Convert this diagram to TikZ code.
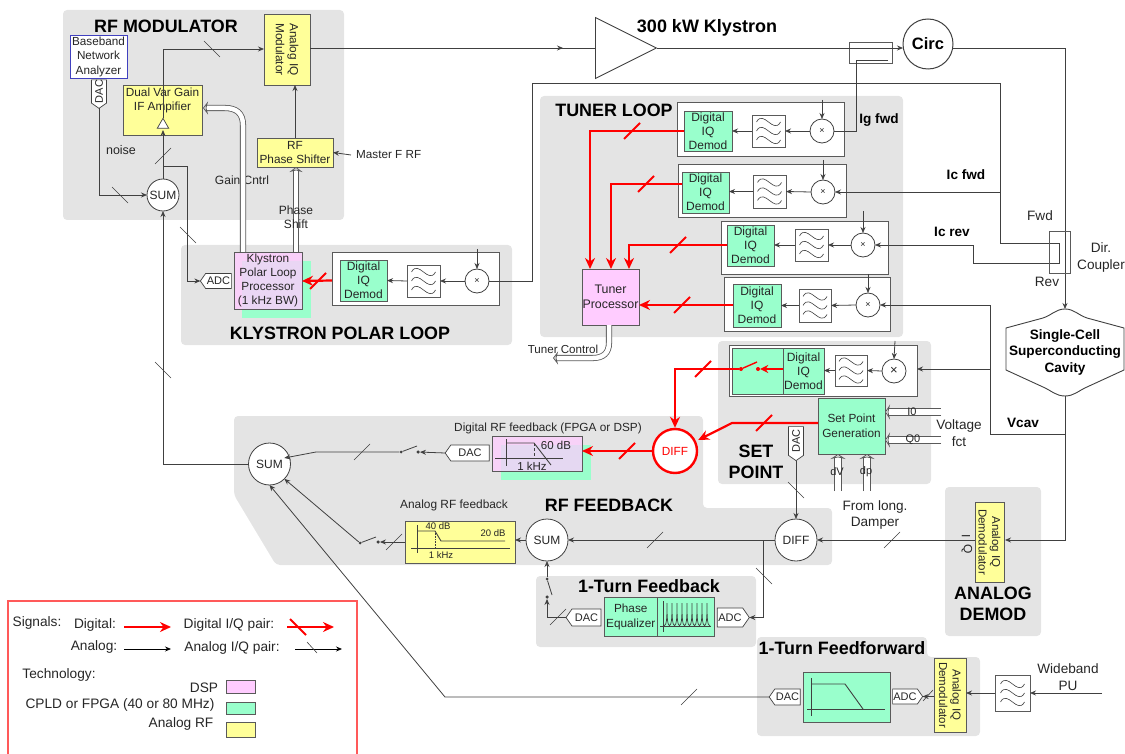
\documentclass[tikz,border=0pt]{standalone}
\usepackage{fontspec}
\setmainfont{Liberation Sans}
\usetikzlibrary{arrows.meta,shapes.symbols,shapes.geometric}
\definecolor{panel}{HTML}{E4E4E4}
\definecolor{ygl}{HTML}{FFFF99}
\definecolor{grn}{HTML}{99FFCC}
\definecolor{pnk}{HTML}{FFCCFF}
\definecolor{ln}{HTML}{404040}
\definecolor{edge}{HTML}{5A5A5A}
\definecolor{txt}{HTML}{262626}
\definecolor{rd}{HTML}{FF0000}
\tikzset{
  base/.style={inner sep=0pt,outer sep=0pt,align=center,text=txt,font=\fontsize{11.8}{14}\selectfont},
  panelbox/.style={fill=panel,draw=none,rounded corners=4pt},
  yellowbox/.style={base,fill=ygl,draw=edge,line width=.8pt},
  greenbox/.style={base,fill=grn,draw=edge,line width=.8pt},
  pinkbox/.style={base,fill=pnk,draw=edge,line width=.8pt},
  whitebox/.style={base,fill=white,draw=edge,line width=.8pt},
  title/.style={inner sep=0pt,align=center,text=black,font=\fontsize{17.9}{21}\bfseries\selectfont},
  lbl/.style={inner sep=0pt,align=center,text=txt,font=\fontsize{12}{16}\selectfont},
  midlbl/.style={lbl,font=\fontsize{13.6}{16.5}\selectfont},
  leglbl/.style={lbl,font=\fontsize{13.7}{16}\selectfont},
  blbl/.style={inner sep=0pt,align=center,text=black,font=\fontsize{13.6}{16}\bfseries\selectfont},
  circ/.style={base,circle,draw=ln,fill=white,line width=.8pt},
  sumnode/.style={circ,minimum size=42pt,font=\fontsize{12}{14}\selectfont},
  mixnode/.style={circ,minimum size=24pt,font=\fontsize{9}{10}\selectfont},
  sig/.style={draw=ln,line width=.8pt,-{Stealth[length=6pt,width=5pt]}},
  wire/.style={draw=ln,line width=.8pt},
  rsig/.style={draw=rd,line width=2.2pt,-{Stealth[length=11pt,width=10pt]}},
  hollow/.style={draw=edge,line width=.8pt,double=white,double distance=4.5pt,-{Stealth[open,fill=white,length=5pt,width=13pt]}},
  hollowb/.style={draw=edge,line width=.8pt,double=white,double distance=6.5pt,-{Stealth[open,fill=white,length=5pt,width=15pt]}},
  graphline/.style={draw=ln,line width=.9pt},
  tagn/.style={base,draw=ln,fill=white,line width=.7pt,signal,signal from=nowhere,signal pointer angle=110,font=\fontsize{11}{13}\selectfont},
  tick/.style={draw=ln,line width=.6pt},
  rtick/.style={draw=rd,line width=2pt},
}
\newcommand{\bx}[7][]{\pgfmathsetmacro\cxx{(#3+#5)/2}\pgfmathsetmacro\cyy{(#4+#6)/2}\pgfmathsetmacro\www{#5-#3}\pgfmathsetmacro\hhh{#6-#4}\node[rectangle,minimum width=\www pt,minimum height=\hhh pt,#1] (#2) at (\cxx,\cyy) {#7};}
\newcommand{\tickF}[2]{\draw[tick] (#1-8,#2+8) -- (#1+8,#2-8);}
\newcommand{\tickB}[2]{\draw[tick] (#1-8,#2-8) -- (#1+8,#2+8);}
\newcommand{\rtickF}[2]{\draw[rtick] (#1-8,#2+8) -- (#1+8,#2-8);}
\newcommand{\filt}[5]{\bx[whitebox]{#1}{#2}{#3}{#4}{#5}{}
  \foreach \dy in {-9,0,9}{\draw[draw=ln,line width=.6pt] ([shift={(-12,\dy)}]#1.center) .. controls +(7,-13) and +(-7,13) .. +(24,0);}}
\begin{document}
\begin{tikzpicture}[x=1pt,y=-1pt]
\useasboundingbox (0,0) rectangle (1125,754);
% ---- panels
\draw[panelbox] (63,10) rectangle (344,220);
\draw[panelbox] (181,245) rectangle (512,345);
\draw[panelbox] (540,96) rectangle (903,337);
\draw[panelbox] (718,341) rectangle (931,484);
\draw[panelbox] (234,416) -- (703,416) -- (703,508) -- (832,508) -- (832,565) -- (276,565) -- (234,495) -- cycle;
\draw[panelbox] (536,576) rectangle (756,647);
\draw[panelbox] (757,637) -- (927,637) -- (927,657) -- (980,657) -- (980,736) -- (757,736) -- cycle;
\draw[panelbox] (945,487) rectangle (1041,636);
% ---- titles
\node[title] (tmod) at (166,26) {RF MODULATOR};
\node[title] (tpol) at (340,333) {KLYSTRON POLAR LOOP};
\node[title] (ttun) at (614,110) {TUNER LOOP};
\node[title,font=\fontsize{18}{21}\bfseries\selectfont] (tkly) at (707,28) {300 kW Klystron};
\node[title] (tset) at (756,462) {SET\\POINT};
\node[title] (tfb) at (609,505) {RF FEEDBACK};
\node[title] (t1fb) at (649,586) {1-Turn Feedback};
\node[title] (t1ff) at (842,648) {1-Turn Feedforward};
\node[title] (tdem) at (993,604) {ANALOG\\DEMOD};
% ---- RF modulator
\bx[whitebox,draw=blue!50!gray,font=\fontsize{11.7}{14.5}\selectfont]{bna}{70}{35}{127}{78}{Baseband\\Network\\Analyzer}
\node[tagn,rotate=90,signal to=west,minimum width=27pt,minimum height=15pt] (dacb) at (99,91.5) {DAC};
\bx[yellowbox]{ifamp}{123}{85}{202}{135}{\raisebox{7pt}[0pt][0pt]{\parbox{78pt}{\centering Dual Var Gain\\IF Ampifier}}}
\bx[yellowbox]{iqmod}{264}{14}{310}{85}{\rotatebox{-90}{\parbox{70pt}{\centering Analog IQ\\Modulator}}}
\bx[yellowbox]{phs}{257}{138}{333}{167}{RF\\Phase Shifter}
\node[sumnode,minimum size=32pt] (summ) at (163,195) {SUM};
\node[lbl,font=\fontsize{12.5}{14}\selectfont] (noise) at (121,150) {noise};
\node[lbl] (gain) at (242,180) {Gain Cntrl};
\node[lbl,anchor=west,font=\fontsize{11.7}{14}\selectfont] (master) at (356,155) {Master F RF};
\coordinate (masters) at (351,155);
\draw[sig] (masters) -- (phs.east);
\coordinate (modin) at (264,49);
\draw[wire] (summ.north) -- (ifamp.south -| summ.north);
\node[isosceles triangle,isosceles triangle apex angle=60,shape border rotate=90,draw=ln,fill=white,inner sep=0pt,minimum height=10pt,minimum width=11pt,line width=.7pt] (amptri) at (163,125) {};
\draw[sig] (ifamp.south -| summ.north) -- ++(0,-5);
\draw[sig] (amptri.north) |- (modin);
\draw[sig] (phs.north -| 295,138) -- (295,85);
\draw[sig] (dacb.west) |- (summ.west);
\tickB{120}{195}
\tickB{212}{49}
\tickF{163}{156}
% ---- Klystron polar loop
\bx[draw=none,fill=grn]{kgrn}{242}{261}{311}{318}{}
\bx[pinkbox,fill opacity=.8,text opacity=1,font=\fontsize{11.8}{14.2}\selectfont]{kpl}{234}{252}{302}{309}{Klystron\\Polar Loop\\Processor\\(1 kHz BW)}
\node[tagn,signal to=west,minimum width=31pt,minimum height=15pt] (adck) at (218.5,281) {ADC};
\coordinate (kbr) at (163,166);
\draw[wire] (kbr) -- (187,166) -- (187,281);
\coordinate (adcj) at (187,281);
\draw[sig] (adcj) -- (adck.west);
\tickB{188}{235}
\draw[hollow] (243,252) -- (243,125) .. controls (243,113) and (236,108) .. (225,108) -- (203,108);
\draw[hollow] (296,252) -- (296,167);
\node[lbl,font=\fontsize{12}{14}\selectfont] (pshift) at (296,217) {Phase\\Shift};
\bx[whitebox]{kwb}{332}{252}{499}{305}{}
\bx[greenbox,font=\fontsize{12}{14.2}\selectfont]{kdem}{340}{260}{387}{301}{Digital\\IQ\\Demod}
\filt{kf}{407}{265}{440}{297}
\node[mixnode] (kmix) at (477,281) {×};
\coordinate (kmt) at (477,249);
\draw[sig] (kmt) -- (kmix.north);
\draw[sig] (kmix.west) -- (kf.east);
\draw[sig] (kf.west) -- (kdem.east);
\draw[rsig] (kwb.west |- kdem.east) -- (302,281);
\rtickF{318}{281}
% ---- Klystron, circulator
\node[isosceles triangle,isosceles triangle apex angle=53,draw=ln,fill=white,line width=.9pt,inner sep=0pt,minimum height=61pt,minimum width=60pt,anchor=lower side] (kly) at (595,48) {};
\node[circ,minimum size=50pt,line width=1pt,text=black,font=\fontsize{16.5}{18}\bfseries\selectfont] (circul) at (928,44) {Circ};
\draw[wire] (iqmod.east |- 0,48) -- (kly.lower side);
\draw[sig] (iqmod.east |- 0,48) -- (563,48);
\bx[whitebox,fill=none]{dcg}{849}{42}{892}{63}{}
\coordinate (circin) at (903,48);
\draw[sig] (kly.apex) -- (circin);
\coordinate (cav) at (1065,309);
\draw[sig] (953,48) -- (1065,48) -- (cav);
% ---- cavity
\draw[draw=ln,fill=white,line width=.9pt] (1006,328) -- (1043,318) .. controls (1052,315) and (1056,309) .. (1065,309) .. controls (1074,309) and (1078,315) .. (1087,318) -- (1124,328) -- (1124,370) -- (1087,387) .. controls (1078,391) and (1074,396) .. (1065,396) .. controls (1056,396) and (1052,391) .. (1043,387) -- (1006,370) -- cycle;
\node[blbl,font=\fontsize{13.6}{16.5}\bfseries\selectfont] (cavt) at (1065,352) {Single-Cell\\Superconducting\\Cavity};
% ---- tuner loop boxes
\bx[whitebox]{tb1}{677}{102}{844}{156}{}
\bx[greenbox,font=\fontsize{12}{14.2}\selectfont]{d1}{684}{111}{732}{151}{Digital\\IQ\\Demod}
\filt{f1}{752}{115}{785}{147}
\node[mixnode] (m1) at (822,131) {×};
\bx[whitebox]{tb2}{678}{164}{846}{217}{}
\bx[greenbox,font=\fontsize{12}{14.2}\selectfont]{d2}{682}{172}{729}{213}{Digital\\IQ\\Demod}
\filt{f2}{753}{175}{786}{208}
\node[mixnode] (m2) at (823,192) {×};
\bx[whitebox]{tb3}{721}{221}{888}{274}{}
\bx[greenbox,font=\fontsize{12}{14.2}\selectfont]{d3}{727}{225}{774}{266}{Digital\\IQ\\Demod}
\filt{f3}{795}{229}{828}{261}
\node[mixnode] (m3) at (863,245) {×};
\bx[whitebox]{tb4}{724}{277}{890}{331}{}
\bx[greenbox,font=\fontsize{12}{14.2}\selectfont]{d4}{733}{284}{781}{327}{Digital\\IQ\\Demod}
\filt{f4}{799}{289}{831}{322}
\node[mixnode] (m4) at (868,305) {×};
\foreach \n/\x/\y in {1/822/100,2/823/160,3/863/211,4/868/274}{
  \coordinate (mt\n) at (\x,\y);
  \draw[sig] (mt\n) -- (m\n.north);
  \draw[sig] (m\n.west) -- (f\n.east);
}
\draw[sig] (f1.west) -- (d1.east |- f1.west);
\draw[sig] (f2.west) -- (d2.east |- f2.west);
\draw[sig] (f3.west) -- (d3.east |- f3.west);
\draw[sig] (f4.west) -- (d4.east |- f4.west);
\bx[pinkbox,font=\fontsize{12.4}{15}\selectfont]{tp}{582}{269}{639}{325}{Tuner\\Processor}
\coordinate (tp1) at (590,269);
\coordinate (tp2) at (611,269);
\coordinate (tp3) at (629,269);
\draw[rsig] (d1.west) -| (tp1);
\draw[rsig] (d2.west |- 0,184) -| (tp2);
\draw[rsig] (d3.west |- 0,245) -| (tp3);
\draw[rsig] (d4.west |- 0,305) -- (tp.east |- 0,305);
\rtickF{632}{131}
\rtickF{646}{184}
\rtickF{678}{245}
\rtickF{682}{305}
\draw[hollow] (tp.south -| 609,0) -- (609,343) .. controls (609,353) and (603,358) .. (593,358) -- (553,358);
\node[lbl,font=\fontsize{11.6}{12}\selectfont] (tctl) at (563,349.5) {Tuner Control};
% ---- sampling lines
\draw[wire] (888,60) -- (856,60) -- (856,131) -- (m1.east);
\coordinate (jfwd) at (1000,192);
\draw[wire] (kmix.east) -- (532,281) -- (532,83) -- (1000,83) -- (1000,243) -- (1059,243) -- (1059,263) -- (973,263) -- (973,245);
\draw[sig] (jfwd) -- (m2.east);
\draw[sig] (973,245) -- (m3.east);
\bx[draw=edge,line width=.8pt,fill=none]{coup}{1049}{231}{1070}{273}{}
\coordinate (jv) at (990,369);
\draw[sig] (990,434) -- (990,305) -- (m4.east);
\draw[wire] (990,434) -- (1065,434);
\coordinate (cavb) at (1065,396);
\coordinate (dmin) at (1005,540);
\draw[sig] (cavb) -- (1065,540) -- (dmin);
\node[blbl] (ig) at (879,120) {Ig fwd};
\node[blbl] (icf) at (966,175) {Ic fwd};
\node[blbl] (icr) at (952,232) {Ic rev};
\node[blbl] (vc) at (1023,423) {Vcav};
\node[midlbl] (fw) at (1040,216) {Fwd};
\node[midlbl] (rv) at (1047,282) {Rev};
\node[midlbl] (dc) at (1101,257.5) {Dir.\\Coupler};
% ---- set point
\bx[whitebox]{swb}{729}{345}{917}{396}{}
\bx[greenbox]{sg}{732}{348}{783}{394}{}
\bx[greenbox,font=\fontsize{12}{14.2}\selectfont]{sd}{783}{348}{824}{394}{Digital\\IQ\\Demod}
\filt{sf}{835}{355}{867}{386}
\node[mixnode,font=\fontsize{13}{13}\selectfont] (sm) at (894,371) {×};
\coordinate (smt) at (895,341);
\draw[sig] (smt) -- (sm.north);
\draw[sig] (sm.west) -- (sf.east);
\draw[sig] (sf.west) -- (sd.east |- sf.west);
\draw[sig] (jv) -- (swb.east |- jv);
\node[circle,draw=rd,fill=white,line width=2.4pt,minimum size=44pt,inner sep=0pt,text=rd,font=\fontsize{11.8}{14}\selectfont] (dif1) at (675,451) {DIFF};
\node[circle,fill=rd,inner sep=0pt,minimum size=4pt] (sw1a) at (741,369) {};
\node[circle,fill=rd,inner sep=0pt,minimum size=4pt] (sw1b) at (758,369) {};
\draw[rd,line width=1.4pt] (sw1a) -- (757,362);
\draw[rsig,-{Stealth[length=8pt,width=8pt]}] (sd.west |- sw1b) -- (sw1b);
\draw[rsig] (sw1a) -| (dif1.north);
\rtickF{703}{369}
\bx[greenbox,font=\fontsize{11.8}{15}\selectfont]{spg}{818}{398}{885}{454}{Set Point\\Generation}
\node[tagn,rotate=90,signal to=west,minimum width=34pt,minimum height=15pt] (dacs) at (796,441) {DAC};
\coordinate (rj) at (732,423);
\draw[rsig] (spg.west |- rj) -- (rj) -- (dif1.east |- 0,440);
\rtickF{764}{423}
\draw[hollowb] (941,412) -- (spg.east |- 0,412);
\draw[hollowb] (941,440) -- (spg.east |- 0,440);
\draw[hollowb] (838,491) -- (838,454);
\draw[hollowb] (867,491) -- (867,454);
\node[lbl,font=\fontsize{11}{13}\selectfont] (i0) at (912,412) {I0};
\node[lbl,font=\fontsize{11}{13}\selectfont] (q0) at (913,440) {Q0};
\node[lbl,font=\fontsize{11}{13}\selectfont] (dv) at (837,472) {dV};
\node[lbl,font=\fontsize{11}{13}\selectfont] (dp) at (866,472) {dp};
\node[midlbl] (vf) at (959,433) {Voltage\\fct};
\node[midlbl] (fl) at (875,515) {From long.\\Damper};
% ---- analog demod
\bx[yellowbox,font=\fontsize{11.5}{13.5}\selectfont]{dem}{975}{502}{1004}{582}{\rotatebox{-90}{\parbox{80pt}{\centering Analog IQ\\Demodulator}}}
\node[lbl,rotate=-90] (iI) at (966,536) {I};
\node[lbl,rotate=-90] (iQ) at (967,549) {Q};
% ---- RF feedback
\node[sumnode] (dif2) at (796,540) {DIFF};
\node[sumnode] (sum2) at (547,540) {SUM};
\node[sumnode] (sum1) at (269.5,464) {SUM};
\draw[sig] (dacs.west) -- (dif2.north);
\tickB{796}{490}
\draw[sig] (dem.west |- dif2) -- (dif2.east);
\tickF{892}{540}
\draw[sig] (dif2.west) -- (sum2.east);
\tickF{655}{540}
\draw[sig] (sum1.west) -| (summ.south);
\tickB{163}{370}
\node[lbl,font=\fontsize{11.8}{14}\selectfont] (drf) at (548,428) {Digital RF feedback (FPGA or DSP)};
\bx[draw=none,fill=grn]{dgrn}{501}{445}{591}{480}{}
\bx[pinkbox,fill opacity=.75,text opacity=1]{dbx}{492}{436}{582}{471}{}
\draw[graphline] (506,439) -- (506,466);
\draw[graphline] (495,458) -- (563,458);
\draw[graphline] (506,443) -- (534,443) -- (551,465);
\draw[draw=ln,densely dashed,line width=.6pt] (534,443) -- (534,458);
\node[lbl,font=\fontsize{11.5}{13}\selectfont] (d60) at (556,445.5) {60 dB};
\node[lbl,font=\fontsize{11.5}{13}\selectfont] (d1k) at (532,466) {1 kHz};
\node[tagn,signal to=west,minimum width=44pt,minimum height=16pt] (dacd) at (470,453) {DAC};
\draw[rsig] (dif1.west) -- (dbx.east |- dif1.west);
\rtickF{627}{451}
\node[circle,fill=ln,inner sep=0pt,minimum size=3.5pt] (sw2b) at (418,452) {};
\node[circle,fill=ln,inner sep=0pt,minimum size=3pt] (sw2a) at (401,452) {};
\draw[wire] (sw2a) -- (417,446);
\draw[sig] (dacd.west) -- (sw2b);
\draw[sig] (sw2a) -- (316,452) -- (sum1.north east |- 0,458);
\tickF{362}{452}
\node[lbl,font=\fontsize{11.9}{14}\selectfont] (arf) at (454,505) {Analog RF feedback};
\bx[yellowbox]{abx}{405}{521}{515}{563}{}
\draw[graphline] (417,525) -- (417,553);
\draw[graphline] (411,548) -- (510,548);
\draw[graphline] (417,531) -- (435,531) -- (441,541) -- (505,541);
\draw[draw=ln,densely dotted,line width=.6pt] (435,531) -- (435,548);
\node[lbl,font=\fontsize{9.5}{11}\selectfont] (a40) at (438,526) {40 dB};
\node[lbl,font=\fontsize{9.5}{11}\selectfont] (a20) at (493,533) {20 dB};
\node[lbl,font=\fontsize{9.5}{11}\selectfont] (a1k) at (441,555) {1 kHz};
\draw[sig] (sum2.west) -- (abx.east |- sum2);
\node[circle,fill=ln,inner sep=0pt,minimum size=3.5pt] (sw3b) at (378,542) {};
\node[circle,fill=ln,inner sep=0pt,minimum size=3pt] (sw3a) at (360,543) {};
\draw[wire] (sw3a) -- (376,537);
\draw[sig] (abx.west |- sw3b) -- (sw3b);
\draw[sig] (sw3a) -- (sum1.south east);
\tickF{394}{542}
% ---- one-turn feedback
\bx[greenbox,font=\fontsize{11.8}{15}\selectfont]{peq}{604}{597}{657.5}{636}{Phase\\Equalizer}
\bx[greenbox]{comb}{657.5}{597}{714}{636}{}
\draw[graphline] (663,601) -- (663,632);
\draw[graphline] (660,626) -- (711,626);
\foreach \x in {667,672,677,682,687,692,697,702,707}{\draw[draw=ln,line width=.7pt] (\x-3,626) .. controls (\x-.5,625) and (\x,620) .. (\x,603) .. controls (\x,620) and (\x+.5,625) .. (\x+3,626);}
\node[tagn,signal to=west,minimum width=35pt,minimum height=17pt] (dac1) at (586.5,617.5) {DAC};
\node[tagn,signal to=east,minimum width=32pt,minimum height=19pt] (adc1) at (730,617.5) {ADC};
\coordinate (j1) at (763,540);
\draw[sig] (j1) |- (adc1.east);
\tickB{764}{576}
\node[circle,fill=ln,inner sep=0pt,minimum size=3.5pt] (sw4b) at (547,597) {};
\node[circle,fill=ln,inner sep=0pt,minimum size=3pt] (sw4a) at (547,579) {};
\draw[wire] (sw4a) -- (552,595);
\draw[sig] (dac1.west) -| (sw4b);
\draw[sig] (sw4a) -- (sum2.south);
\tickF{558}{617}
% ---- one-turn feedforward
\bx[greenbox]{ffb}{803}{672}{890}{722}{}
\draw[graphline] (811,678) -- (811,716);
\draw[graphline] (807,709) -- (885,709);
\draw[graphline] (811,684) -- (845,684) -- (863,709);
\node[tagn,signal to=west,minimum width=31pt,minimum height=16pt] (dacf) at (787.5,697) {DAC};
\node[tagn,signal to=east,minimum width=30pt,minimum height=15pt] (adcf) at (905,696.5) {ADC};
\bx[yellowbox,font=\fontsize{11.5}{13.5}\selectfont]{demf}{934}{658}{966}{732}{\rotatebox{-90}{\parbox{74pt}{\centering Analog IQ\\Demodulator}}}
\filt{wf}{995}{675}{1030}{711}
\coordinate (wb) at (1102,693);
\draw[sig] (wb) -- (wf.east);
\draw[sig] (wf.west) -- (demf.east |- wf.west);
\draw[sig] (demf.west |- adcf.east) -- (adcf.east);
\draw[tick] (923,701) -- (933,690);
\node[midlbl] (wbt) at (1068,677) {Wideband\\PU};
\draw[sig] (dacf.west) -- (445,697) -- (sum1.south);
\tickF{689}{697}
% ---- legend
\draw[draw=rd!65,line width=1.3pt] (8,754) -- (8,601) -- (357,601) -- (357,754);
\node[leglbl] (lsig) at (37,623) {Signals:};
\node[leglbl] (ldig) at (95,625) {Digital:};
\node[leglbl] (lana) at (94,647) {Analog:};
\node[leglbl] (ldq) at (229,625) {Digital I/Q pair:};
\node[leglbl] (laq) at (232,648) {Analog I/Q pair:};
\node[leglbl] (ltec) at (59,675) {Technology:};
\node[leglbl] (ldsp) at (204,688) {DSP};
\node[leglbl] (lcp) at (120,705) {CPLD or FPGA (40 or 80 MHz)};
\node[leglbl] (lan) at (181,724) {Analog RF};
\coordinate (la1) at (124,627); \coordinate (la2) at (171,627);
\coordinate (lb1) at (287,627); \coordinate (lb2) at (334,627);
\coordinate (lc1) at (124,649); \coordinate (lc2) at (171,649);
\coordinate (ld1) at (295,649); \coordinate (ld2) at (342,649);
\draw[rsig] (la1) -- (la2);
\draw[rsig] (lb1) -- (lb2);
\draw[rtick] (290,619) -- (306,635);
\draw[sig,draw=black] (lc1) -- (lc2);
\draw[sig,draw=black] (ld1) -- (ld2);
\draw[tick] (307,642) -- (317,653);
\bx[pinkbox]{s1}{226}{680}{255}{693}{}
\bx[greenbox]{s2}{226}{702}{255}{714}{}
\bx[yellowbox]{s3}{226}{722}{255}{737}{}
\end{tikzpicture}
\end{document}
